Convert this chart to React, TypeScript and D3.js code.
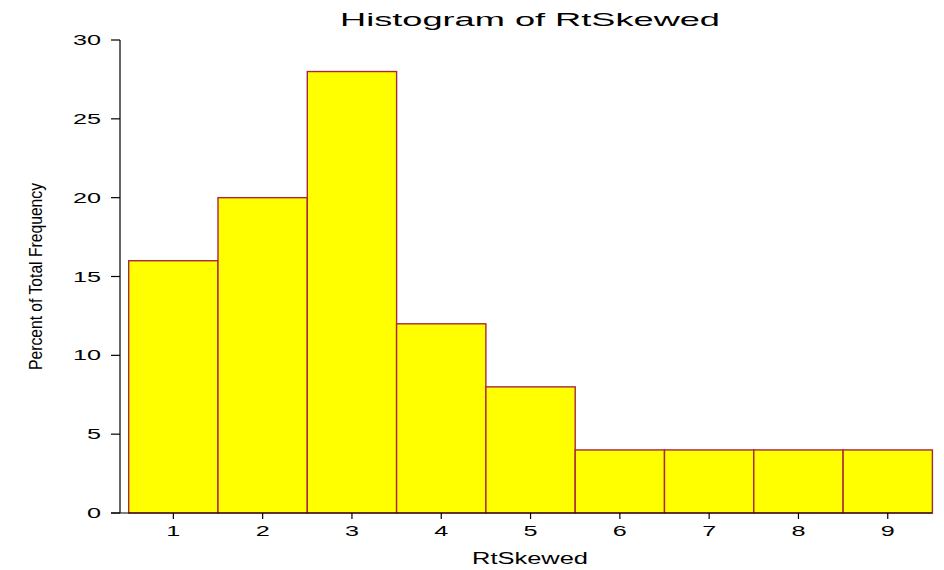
import React from "react";
import * as d3 from "d3";

// Histogram bins (bin centre) and percent of total frequency
const binCenters = [1, 2, 3, 4, 5, 6, 7, 8, 9];
const percents = [16, 20, 28, 12, 8, 4, 4, 4, 4];
const yTicks = [0, 5, 10, 15, 20, 25, 30];
const xTicks = [1, 2, 3, 4, 5, 6, 7, 8, 9];

const title = "Histogram of RtSkewed";
const xTitle = "RtSkewed";
const yTitle = "Percent of Total Frequency";

const W = 944;
const H = 570;
const FONT = "'Liberation Sans', Arial, Helvetica, sans-serif";
const STRETCH = 1.8;

export default function App() {
  const x = d3.scaleLinear().domain([0.5, 9.5]).range([128.7, 932.4]);
  const y = d3.scaleLinear().domain([0, 30]).range([513, 40]);
  const axisX = 120;
  const axisY = y(0);
  const tickLen = 9;

  return (
    <svg
      width={W}
      height={H}
      style={{ position: "fixed", left: 0, top: 0, background: "#fff" }}
      fontFamily={FONT}
    >
      {/* title */}
      <text x={340} y={26} fontSize={19} textLength={380} lengthAdjust="spacingAndGlyphs" fill="#000">
        {title}
      </text>

      {/* bars */}
      {binCenters.map((c, i) => (
        <rect
          key={c}
          x={x(c - 0.5)}
          y={y(percents[i])}
          width={x(c + 0.5) - x(c - 0.5)}
          height={y(0) - y(percents[i])}
          fill="#ffff00"
          stroke="#a8283c"
          strokeWidth={1.4}
        />
      ))}

      {/* y axis */}
      <line x1={axisX} x2={axisX} y1={y(30)} y2={axisY} stroke="#000" strokeWidth={1.2} />
      {yTicks.map((t) => (
        <g key={t}>
          <line x1={axisX - tickLen} x2={axisX} y1={y(t)} y2={y(t)} stroke="#000" strokeWidth={1.2} />
          <text
            transform={`translate(${axisX - 19},${y(t) + 5}) scale(${STRETCH},1)`}
            textAnchor="end"
            fontSize={14}
            fill="#000"
          >
            {t}
          </text>
        </g>
      ))}

      {/* x axis */}
      <line x1={axisX - tickLen} x2={x(9.5)} y1={axisY} y2={axisY} stroke="#000" strokeWidth={1.2} />
      {xTicks.map((t) => (
        <g key={t}>
          <line x1={x(t)} x2={x(t)} y1={axisY} y2={axisY + 6} stroke="#000" strokeWidth={1.2} />
          <text
            transform={`translate(${x(t)},${axisY + 23}) scale(${STRETCH},1)`}
            textAnchor="middle"
            fontSize={14}
            fill="#000"
          >
            {t}
          </text>
        </g>
      ))}

      {/* axis titles */}
      <text x={472} y={564} fontSize={16} textLength={116} lengthAdjust="spacingAndGlyphs" fill="#000">
        {xTitle}
      </text>
      <text
        transform="translate(42,370) rotate(-90)"
        fontSize={19}
        textLength={187}
        lengthAdjust="spacingAndGlyphs"
        fill="#000"
      >
        {yTitle}
      </text>
    </svg>
  );
}
